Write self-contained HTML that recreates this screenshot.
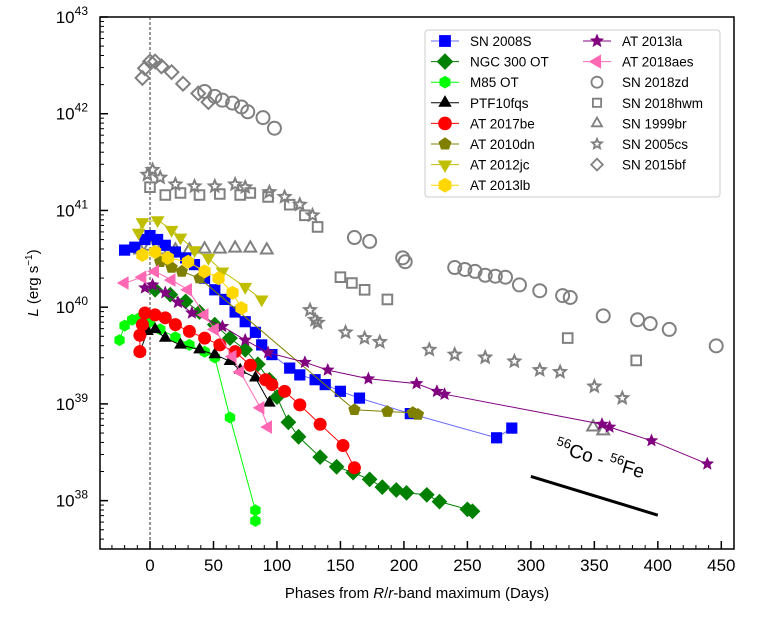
<!DOCTYPE html>
<html><head><meta charset="utf-8"><style>
body{margin:0;background:#fff;}
svg{display:block;font-family:"Liberation Sans","DejaVu Sans",sans-serif;}
</style></head><body>
<svg id="chart" width="772" height="618" viewBox="0 0 772 618" xmlns="http://www.w3.org/2000/svg">
<g id="plot"></g>
</svg>
<script>
// [day, log10 L]
const sn2008S=[[-20,40.59],[-12,40.62],[-4,40.70],[0,40.74],[6,40.70],[12,40.64],[20,40.57],[28,40.51],[35,40.44],[43,40.30],[51,40.18],[59,40.08],[67,39.95],[75,39.85],[83,39.74],[88,39.61],[96,39.51],[110,39.37],[118,39.30],[130,39.25],[138,39.20],[150,39.13],[165,39.06],[205,38.90],[273,38.65],[285,38.75]];
const ngc300=[[4,40.18],[16,40.13],[28,40.06],[39,39.95],[51,39.82],[63,39.68],[75,39.56],[85,39.41],[94,39.25],[100,39.07],[109,38.81],[117,38.66],[134,38.45],[147,38.35],[160,38.29],[173,38.22],[183,38.14],[194,38.11],[202,38.08],[218,38.06],[228,37.99],[250,37.91],[254,37.89]];
const m85=[[-24,39.66],[-20,39.81],[-14,39.87],[-8,39.89],[0,39.85],[8,39.77],[20,39.69],[31,39.61],[43,39.54],[51,39.48],[63,38.86],[83,37.90],[83,37.79]];
const ptf10fqs=[[-8,39.54],[-2,39.75],[4,39.77],[12,39.68],[24,39.61],[39,39.56],[51,39.51],[63,39.44],[71,39.35],[83,39.27],[94,39.01]];
const at2017be=[[-8,39.54],[-8,39.71],[-6,39.82],[-4,39.94],[4,39.92],[12,39.89],[20,39.82],[31,39.75],[43,39.68],[55,39.61],[67,39.54],[79,39.40],[91,39.25],[96,39.20],[106,39.13],[118,38.99],[134,38.79],[152,38.57],[161,38.34]];
const at2010dn=[[8,40.47],[17,40.41],[25,40.37],[39,40.30],[161,38.94],[187,38.92],[207,38.91],[211,38.89]];
const at2012jc=[[-9,40.77],[-6,40.88],[6,40.90],[17,40.80],[24,40.72],[35,40.59],[46,40.51],[57,40.37],[75,40.21],[88,40.08]];
const at2013lb=[[-6,40.54],[4,40.57],[14,40.51],[30,40.47],[43,40.37],[54,40.30],[65,40.15],[72,39.99]];
const at2013la=[[-4,40.20],[2,40.23],[12,40.15],[22,40.05],[33,39.94],[57,39.80],[75,39.66],[93,39.53],[122,39.43],[140,39.35],[172,39.26],[210,39.21],[226,39.13],[232,39.10],[356,38.79],[362,38.76],[395,38.62],[439,38.38]];
const at2018aes=[[-20,40.25],[-6,40.31],[4,40.37],[17,40.28],[30,40.18],[43,39.92],[51,39.77],[65,39.49],[71,39.33],[87,38.96],[93,38.76]];
const sn2018zd=[[43,42.23],[51,42.18],[57,42.14],[65,42.11],[72,42.07],[77,42.02],[89,41.96],[98,41.85],[161,40.72],[173,40.68],[199,40.51],[201,40.47],[240,40.41],[248,40.39],[256,40.37],[264,40.33],[272,40.32],[280,40.31],[291,40.23],[307,40.17],[325,40.12],[331,40.10],[357,39.91],[384,39.87],[394,39.83],[409,39.77],[446,39.60]];
const sn2018hwm=[[0,41.24],[12,41.16],[24,41.18],[39,41.16],[55,41.17],[71,41.16],[79,41.18],[93,41.14],[110,41.06],[122,40.95],[132,40.83],[150,40.31],[159,40.25],[169,40.18],[187,40.08],[329,39.68],[383,39.45]];
const sn1999br=[[-8,40.59],[0,40.63],[8,40.59],[20,40.59],[31,40.59],[43,40.60],[55,40.60],[67,40.61],[79,40.61],[92,40.59],[349,38.76],[357,38.72]];
const sn2005cs=[[-2,41.37],[2,41.42],[8,41.34],[20,41.27],[35,41.25],[51,41.25],[67,41.27],[75,41.24],[94,41.19],[106,41.14],[118,41.06],[128,40.95],[126,39.97],[130,39.87],[132,39.84],[154,39.74],[169,39.68],[181,39.64],[220,39.56],[240,39.51],[264,39.48],[287,39.44],[307,39.35],[323,39.33],[350,39.18],[372,39.06]];
const sn2015bf=[[-6,42.37],[-4,42.47],[0,42.54],[4,42.54],[9,42.49],[17,42.43],[26,42.31],[38,42.21],[46,42.12]];
const coLine=[[300,38.25],[400,37.85]];
const xTicks=[0,50,100,150,200,250,300,350,400,450];
const yTicks=[38,39,40,41,42,43];

const X0=100,X1=734,Y0=17,Y1=549;
const xMin=-39.4,xMax=460,yMin=37.5,yMax=43;
const xs=d=>X0+(d-xMin)/(xMax-xMin)*(X1-X0);
const ys=v=>Y1-(v-yMin)/(yMax-yMin)*(Y1-Y0);
const NS="http://www.w3.org/2000/svg";
const plot=document.getElementById('plot');
function el(tag,attrs,parent){const e=document.createElementNS(NS,tag);for(const k in attrs)e.setAttribute(k,attrs[k]);(parent||plot).appendChild(e);return e;}

function poly(n,r,rot){let p=[];for(let i=0;i<n;i++){const a=rot+i*2*Math.PI/n;p.push([r*Math.cos(a),r*Math.sin(a)]);}return p;}
function star(r){let p=[];for(let i=0;i<10;i++){const a=-Math.PI/2+i*Math.PI/5;const rr=i%2?r*0.45:r;p.push([rr*Math.cos(a),rr*Math.sin(a)]);}return p;}
function shape(kind,s){
  switch(kind){
    case 'square':return [[-s*0.8,-s*0.8],[s*0.8,-s*0.8],[s*0.8,s*0.8],[-s*0.8,s*0.8]];
    case 'diamond':return [[0,-s*1.05],[s*1.05,0],[0,s*1.05],[-s*1.05,0]];
    case 'hexagon':return poly(6,s,-Math.PI/2);
    case 'tri':return poly(3,s*1.05,-Math.PI/2);
    case 'tridown':return poly(3,s*1.05,Math.PI/2);
    case 'trileft':return poly(3,s*1.05,Math.PI);
    case 'pentagon':return poly(5,s,-Math.PI/2);
    case 'star':return star(s*1.1);
  }
}
function marker(g,kind,x,y,s,fill,stroke,sw){
  if(kind==='circle'){const c=el('circle',{cx:x,cy:y,r:s,fill:fill,stroke:stroke,'stroke-width':sw},g);return c;}
  const pts=shape(kind,s).map(p=>(x+p[0]).toFixed(1)+','+(y+p[1]).toFixed(1)).join(' ');
  return el('polygon',{points:pts,fill:fill,stroke:stroke,'stroke-width':sw},g);
}

const frame=el('rect',{x:X0,y:Y0,width:X1-X0,height:Y1-Y0,fill:'none',stroke:'#000','stroke-width':1.5});



const zl=el('line',{x1:xs(0),x2:xs(0),y1:Y0,y2:Y1,stroke:'#333','stroke-width':1,'stroke-dasharray':'3,2'});



const xAxis=el('g',{});


for(let d=-30;d<=450;d+=10){
  const major=d%50===0;
  el('line',{x1:xs(d),x2:xs(d),y1:Y1,y2:Y1-(major?8:4),stroke:'#000','stroke-width':major?1.5:1},xAxis);
}
xTicks.forEach(t=>{
  const tx=el('text',{x:xs(t),y:Y1+22,'text-anchor':'middle','font-size':17,fill:'#000'},xAxis);
  tx.textContent=t;
  
  
});
const yAxis=el('g',{});


for(let e=37;e<=43;e++){
  for(let m=1;m<10;m++){
    const v=e+Math.log10(m);
    if(v<yMin||v>yMax)continue;
    const major=m===1;
    el('line',{x1:X0,x2:X0+(major?8:4),y1:ys(v),y2:ys(v),stroke:'#000','stroke-width':major?1.5:1},yAxis);
  }
}
yTicks.forEach(t=>{
  const tx=el('text',{x:X0-12,y:ys(t)+6,'text-anchor':'end','font-size':17,fill:'#000'},yAxis);
  const base=el('tspan',{},tx);base.textContent='10';
  const sup=el('tspan',{dy:-8,'font-size':12},tx);sup.textContent=t;
  
  
});
const xl=el('text',{x:417,y:598,'text-anchor':'middle','font-size':15});
xl.innerHTML='Phases from <tspan font-style="italic">R</tspan>/<tspan font-style="italic">r</tspan>-band maximum (Days)';


const yl=el('text',{x:0,y:0,'text-anchor':'middle','font-size':15,transform:'translate(38,283) rotate(-90)'});
yl.innerHTML='<tspan font-style="italic">L</tspan> (erg s<tspan dy="-6" font-size="10">−1</tspan><tspan dy="6">)</tspan>';



const series=[
 {name:'SN 2018zd',data:sn2018zd,kind:'circle',open:true,s:6.5},
 {name:'SN 2018hwm',data:sn2018hwm,kind:'square',open:true,s:6},
 {name:'SN 1999br',data:sn1999br,kind:'tri',open:true,s:6.5},
 {name:'SN 2005cs',data:sn2005cs,kind:'star',open:true,s:5.5},
 {name:'SN 2015bf',data:sn2015bf,kind:'diamond',open:true,s:6.5},
 {name:'SN 2008S',data:sn2008S,kind:'square',color:'#0000ff',line:'#6a6aff',s:7},
 {name:'NGC 300 OT',data:ngc300,kind:'diamond',color:'#008000',s:7.5},
 {name:'M85 OT',data:m85,kind:'hexagon',color:'#00ff00',s:6},
 {name:'PTF10fqs',data:ptf10fqs,kind:'tri',color:'#000000',s:7},
 {name:'AT 2017be',data:at2017be,kind:'circle',color:'#ff0000',s:6.5},
 {name:'AT 2010dn',data:at2010dn,kind:'pentagon',color:'#808000',s:6.5},
 {name:'AT 2012jc',data:at2012jc,kind:'tridown',color:'#bfbf00',s:7.5},
 {name:'AT 2013lb',data:at2013lb,kind:'hexagon',color:'#ffd700',s:7},
 {name:'AT 2013la',data:at2013la,kind:'star',color:'#800080',s:6.5},
 {name:'AT 2018aes',data:at2018aes,kind:'trileft',color:'#ff69b4',s:7.5},
];
const slug=n=>n.toLowerCase().replace(/[^a-z0-9]+/g,'-');
series.forEach(sr=>{
  const g=el('g',{});
  
  
  if(!sr.open){
    const pts=sr.data.map(p=>xs(p[0]).toFixed(1)+','+ys(p[1]).toFixed(1)).join(' ');
    const pl=el('polyline',{points:pts,fill:'none',stroke:sr.line||sr.color,'stroke-width':1},g);
    
    
  }
  sr.data.forEach(p=>{
    const m=sr.open?marker(g,sr.kind,xs(p[0]),ys(p[1]),sr.s,'none','#808080',2)
                   :marker(g,sr.kind,xs(p[0]),ys(p[1]),sr.s,sr.color,'none',0);
    
    
  });
});

const co=el('line',{x1:xs(coLine[0][0]),y1:ys(coLine[0][1]),x2:xs(coLine[1][0]),y2:ys(coLine[1][1]),stroke:'#000','stroke-width':3});


const ct=el('text',{x:0,y:0,'text-anchor':'middle','font-size':19,transform:'translate(598,465) rotate(17)'});
ct.innerHTML='<tspan dy="-7" font-size="13">56</tspan><tspan dy="7">Co - </tspan><tspan dy="-7" font-size="13">56</tspan><tspan dy="7">Fe</tspan>';



const lg=el('g',{});


el('rect',{x:425,y:30,width:295,height:167,rx:3,fill:'#fff',stroke:'#ccc','stroke-width':1},lg);
const legendOrder=['SN 2008S','NGC 300 OT','M85 OT','PTF10fqs','AT 2017be','AT 2010dn','AT 2012jc','AT 2013lb','AT 2013la','AT 2018aes','SN 2018zd','SN 2018hwm','SN 1999br','SN 2005cs','SN 2015bf'];
legendOrder.forEach((n,i)=>{
  const sr=series.find(s=>s.name===n);
  const col=i<8?0:1, row=i<8?i:i-8;
  const cx=col?597:445, cy=41+row*20.6;
  const e=el('g',{},lg);
  
  
  if(!sr.open){
    el('line',{x1:cx-14,x2:cx+14,y1:cy,y2:cy,stroke:sr.line||sr.color,'stroke-width':1},e);
    marker(e,sr.kind,cx,cy,sr.s*1.05,sr.color,'none',0);
  } else {
    marker(e,sr.kind,cx,cy,sr.s*0.85,'none','#808080',1.8);
  }
  const t=el('text',{x:cx+25,y:cy+5,'font-size':13.5,fill:'#000'},e);
  t.textContent=n;
});
</script>
</body></html>
